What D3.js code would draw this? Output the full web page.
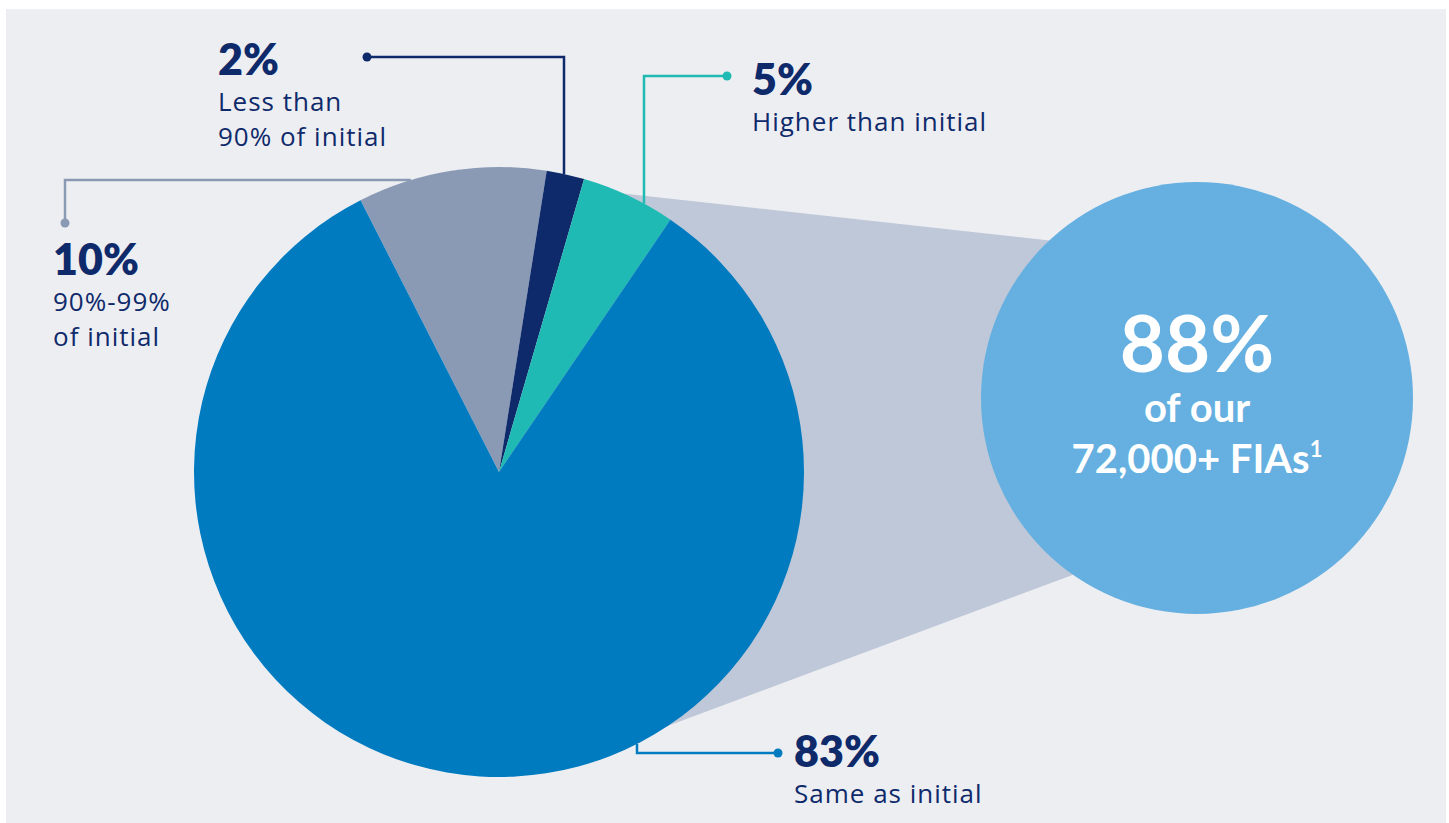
<!DOCTYPE html>
<html>
<head>
<meta charset="utf-8">
<script src="https://cdn.jsdelivr.net/npm/d3@7"></script>
<style>
  body { margin: 0; background: #fff; }
  svg { display: block; }
</style>
</head>
<body>
<svg id="chart"></svg>
<script>
// data
const categories = ['90%-99% of initial', 'Less than 90% of initial', 'Higher than initial', 'Same as initial'];
const shares = [10, 2, 5, 83];
const shareLabels = ['10%', '2%', '5%', '83%'];
const labelLines = [['90%-99%', 'of initial'], ['Less than', '90% of initial'], ['Higher than initial'], ['Same as initial']];
const colors = ['#8a9ab5', '#0f2a6b', '#1fbab3', '#007bc0'];
const calloutValue = '88%';
const calloutLines = ['of our', '72,000+ FIAs'];
const calloutNote = '1';

// layout
const width = 1449;
const height = 823;
const cx = 499, cy = 472, radius = 305;
const bx = 1197, by = 398, bradius = 216;
const startDeg = -27;
const navy = '#0f2a6b';
const font = 'Lato, "Open Sans", sans-serif';
const bodyFont = '"Open Sans", Lato, sans-serif';

// label anchors: text position, leader dot and bend, axis of the last segment
const labelLayout = [
  { tx: 53, ty: 275, dot: [65, 223], bend: [65, 180], axis: 'x' },
  { tx: 218, ty: 75, dot: [367, 57], bend: [564, 57], axis: 'y' },
  { tx: 752, ty: 95, dot: [727, 76], bend: [644, 76], axis: 'y' },
  { tx: 794, ty: 767, dot: [778, 753], bend: [637, 753], axis: 'y' },
];

const rad = d => d * Math.PI / 180;
const polar = (x, y, r, deg) => [x + r * Math.sin(rad(deg)), y - r * Math.cos(rad(deg))];

const svg = d3.select('#chart')
  .attr('width', width)
  .attr('height', height)
  .attr('viewBox', [0, 0, width, height]);

svg.append('rect')
  .attr('x', 6).attr('y', 9)
  .attr('width', 1440).attr('height', height)
  .attr('fill', '#edeef2');

// cone from the pie to the bubble
const cone = [
  [cx, cy],
  polar(cx, cy, radius - 2, 22.8),
  polar(bx, by, bradius - 2, 317.3),
  polar(bx, by, bradius - 2, 214.7),
  polar(cx, cy, radius - 2, 148),
];
svg.append('path')
  .attr('d', d3.line()(cone) + 'Z')
  .attr('fill', '#bfc8d8');

svg.append('circle')
  .attr('cx', bx).attr('cy', by).attr('r', bradius)
  .attr('fill', '#65b0e0');

const bubble = svg.append('g')
  .attr('fill', '#fff')
  .attr('font-family', font)
  .attr('font-weight', 700)
  .attr('text-anchor', 'middle');
bubble.append('text')
  .attr('x', bx).attr('y', 372)
  .attr('font-size', 78)
  .text(calloutValue);
bubble.append('text')
  .attr('x', bx).attr('y', 422)
  .attr('font-size', 40)
  .text(calloutLines[0]);
const last = bubble.append('text')
  .attr('x', bx).attr('y', 473)
  .attr('font-size', 40);
last.append('tspan').text(calloutLines[1]);
last.append('tspan')
  .attr('font-size', 22)
  .attr('dy', -16)
  .text(calloutNote);

// leaders
const edge = (bend, axis) => {
  if (axis === 'x') {
    const s = Math.sqrt(radius * radius - (bend[1] - cy) ** 2);
    return [bend[0] < cx ? cx - s : cx + s, bend[1]];
  }
  const s = Math.sqrt(radius * radius - (bend[0] - cx) ** 2);
  return [bend[0], bend[1] < cy ? cy - s : cy + s];
};

const leaders = svg.append('g');
labelLayout.forEach((l, i) => {
  leaders.append('path')
    .attr('d', d3.line()([l.dot, l.bend, edge(l.bend, l.axis)]))
    .attr('fill', 'none')
    .attr('stroke', colors[i])
    .attr('stroke-width', 2.5);
  leaders.append('circle')
    .attr('cx', l.dot[0]).attr('cy', l.dot[1]).attr('r', 4.5)
    .attr('fill', colors[i]);
});

// pie
const pie = d3.pie()
  .sort(null)
  .startAngle(rad(startDeg))
  .endAngle(rad(startDeg + 360));
const arc = d3.arc().innerRadius(0).outerRadius(radius);

svg.append('g')
  .attr('transform', `translate(${cx},${cy})`)
  .selectAll('path')
  .data(pie(shares))
  .join('path')
  .attr('fill', (d, i) => colors[i])
  .attr('d', arc)
  .append('title')
  .text((d, i) => categories[i]);

// labels
const labels = svg.append('g')
  .attr('fill', navy);
labelLayout.forEach((l, i) => {
  labels.append('text')
    .attr('x', l.tx).attr('y', l.ty)
    .attr('font-family', font)
    .attr('font-size', 43)
    .attr('font-weight', 800)
    .text(shareLabels[i]);
  labelLines[i].forEach((line, j) => {
    labels.append('text')
      .attr('x', l.tx).attr('y', l.ty + 36 + j * 35)
      .attr('font-family', bodyFont)
      .attr('font-size', 26)
      .attr('letter-spacing', 1)
      .text(line);
  });
});
</script>
</body>
</html>
